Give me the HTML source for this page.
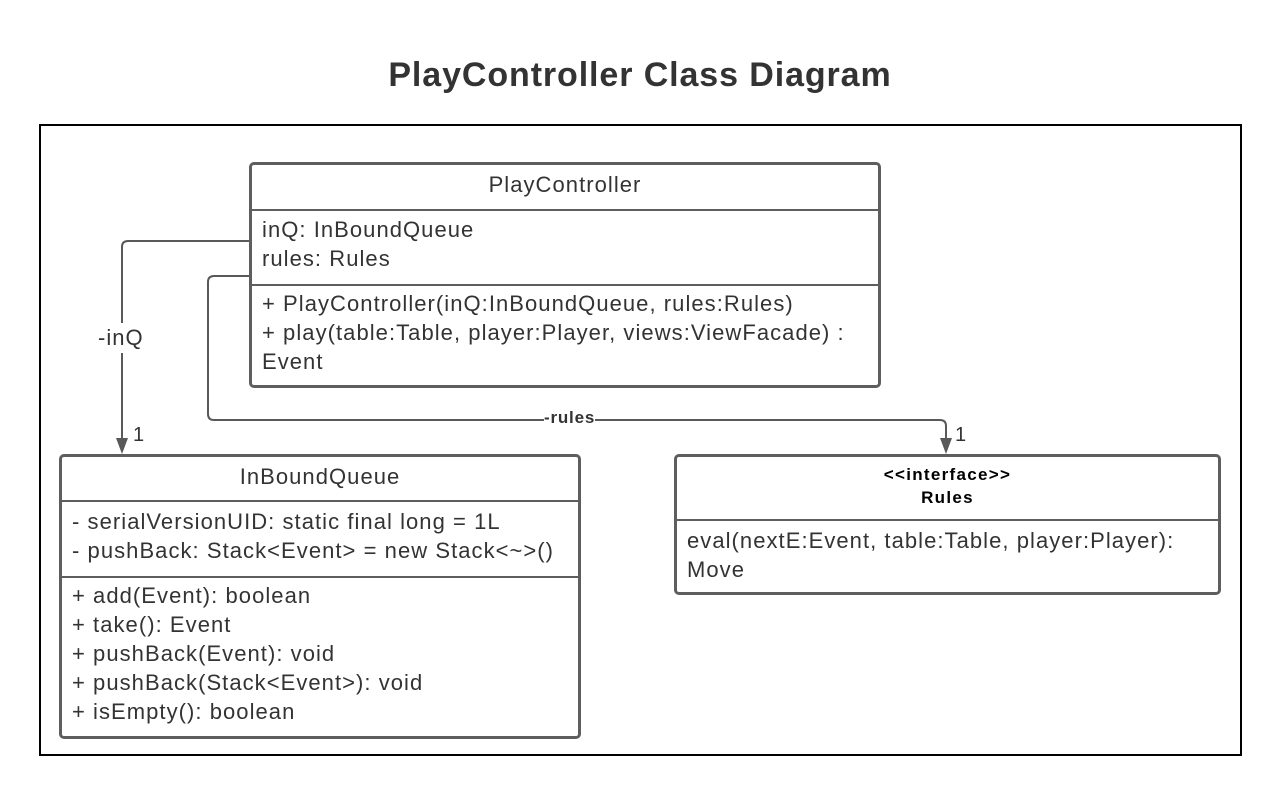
<!DOCTYPE html>
<html><head><style>
body{margin:0;width:1280px;height:795px;background:#fff;font-family:"Liberation Sans",sans-serif;color:#333;position:relative;overflow:hidden}
.a{position:absolute}
.box{position:absolute;border:3px solid #5e5e5e;border-radius:5px;box-sizing:border-box;background:#fff}
.hr{position:absolute;left:0;right:0;height:0;border-top:2px solid #5e5e5e}
.t{position:absolute;font-size:22px;letter-spacing:1.05px;line-height:29px;white-space:nowrap}
</style></head><body>
<div class="a" style="left:0;width:1280px;top:56px;text-align:center;font-size:34px;letter-spacing:0.9px;font-weight:bold;color:#333">PlayController Class Diagram</div>
<div class="a" style="left:39px;top:124px;width:1199px;height:628px;border:2px solid #000"></div>
<svg class="a" style="left:0;top:0" width="1280" height="795">
<g fill="none" stroke="#595959" stroke-width="2">
<path d="M250 241 H128 Q122 241 122 247 V440"/>
<path d="M250 276 H214 Q208 276 208 282 V414 Q208 420 214 420 H940 Q946 420 946 426 V440"/>
</g>
<polygon points="116,438 128,438 122,454" fill="#595959"/>
<polygon points="940,438 952,438 946,454" fill="#595959"/>
</svg>
<div class="a" style="left:98px;top:323px;font-size:22px;letter-spacing:1px;background:#fff;padding:2px 0">-inQ</div>
<div class="a" style="left:544px;top:408px;font-size:17px;letter-spacing:0.8px;font-weight:bold;background:#fff">-rules</div>
<div class="a" style="left:133px;top:424px;font-size:20px">1</div>
<div class="a" style="left:955px;top:424px;font-size:20px">1</div>

<div class="box" style="left:249px;top:162px;width:632px;height:226px">
<div class="t" style="left:0;right:0;top:5px;text-align:center">PlayController</div>
<div class="hr" style="top:44px"></div>
<div class="t" style="left:10px;top:50px">inQ: InBoundQueue<br>rules: Rules</div>
<div class="hr" style="top:119px"></div>
<div class="t" style="left:10px;top:124px">+ PlayController(inQ:InBoundQueue, rules:Rules)<br>+ play(table:Table, player:Player, views:ViewFacade) :<br>Event</div>
</div>

<div class="box" style="left:59px;top:454px;width:522px;height:285px">
<div class="t" style="left:0;right:0;top:5px;text-align:center">InBoundQueue</div>
<div class="hr" style="top:43px"></div>
<div class="t" style="left:10px;top:50px">- serialVersionUID: static final long = 1L<br>- pushBack: Stack&lt;Event&gt; = new Stack&lt;~&gt;()</div>
<div class="hr" style="top:119px"></div>
<div class="t" style="left:10px;top:124px">+ add(Event): boolean<br>+ take(): Event<br>+ pushBack(Event): void<br>+ pushBack(Stack&lt;Event&gt;): void<br>+ isEmpty(): boolean</div>
</div>

<div class="box" style="left:674px;top:454px;width:547px;height:141px">
<div class="a" style="left:0;right:0;top:6px;text-align:center;font-size:17px;letter-spacing:1.3px;font-weight:bold;line-height:23px;color:#000">&lt;&lt;interface&gt;&gt;<br>Rules</div>
<div class="hr" style="top:62px"></div>
<div class="t" style="left:10px;top:69px">eval(nextE:Event, table:Table, player:Player):<br>Move</div>
</div>
</body></html>
